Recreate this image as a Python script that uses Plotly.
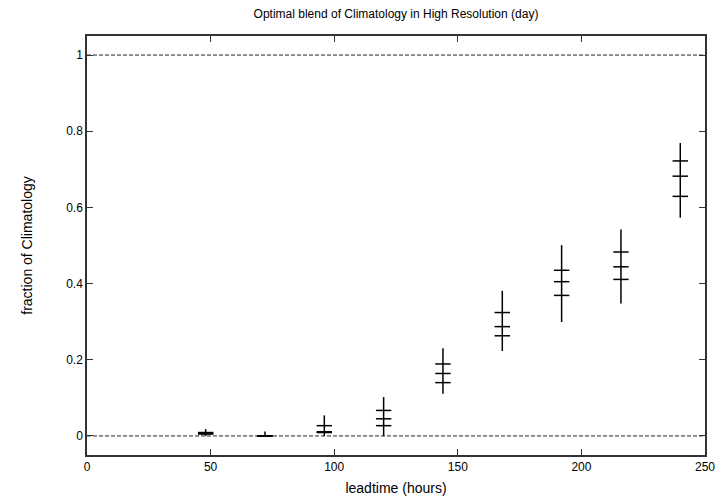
import plotly.graph_objects as go

# Data
leadtime = [48, 72, 96, 120, 144, 168, 192, 216, 240]
low      = [0.000, 0.000, 0.000, 0.000, 0.111, 0.223, 0.299, 0.348, 0.573]
high     = [0.018, 0.012, 0.054, 0.102, 0.230, 0.381, 0.501, 0.542, 0.769]
q_low    = [0.005, 0.000, 0.009, 0.027, 0.140, 0.263, 0.369, 0.411, 0.629]
q_mid    = [0.007, 0.000, 0.011, 0.045, 0.164, 0.287, 0.405, 0.444, 0.682]
q_high   = [0.009, 0.000, 0.027, 0.067, 0.189, 0.324, 0.435, 0.483, 0.722]

x_ticks = [0, 50, 100, 150, 200, 250]
y_ticks = [0, 0.2, 0.4, 0.6, 0.8, 1]
y_ticklabels = ["0", "0.2", "0.4", "0.6", "0.8", "1"]
ref_levels = [0, 1]

FONT = "Liberation Sans, Arial, sans-serif"

fig = go.Figure()

# reference dashed lines
for lvl in ref_levels:
    fig.add_trace(go.Scatter(x=[0, 250], y=[lvl, lvl], mode="lines",
                             line=dict(color="#222", width=1, dash="4px,2px"),
                             hoverinfo="skip", showlegend=False))

# vertical range lines
vx, vy = [], []
for x, lo, hi in zip(leadtime, low, high):
    vx += [x, x, None]
    vy += [lo, hi, None]
fig.add_trace(go.Scatter(x=vx, y=vy, mode="lines",
                         line=dict(color="black", width=1.5),
                         showlegend=False))

# horizontal tick marks
for series in (q_low, q_mid, q_high):
    fig.add_trace(go.Scatter(x=leadtime, y=series, mode="markers",
                             marker=dict(symbol="line-ew", size=11,
                                         line=dict(color="black", width=1.5)),
                             showlegend=False))

fig.update_layout(
    width=722, height=498,
    margin=dict(l=87, r=17, t=36, b=43),
    paper_bgcolor="white", plot_bgcolor="white",
    font=dict(family=FONT, size=12, color="black"),
    title=dict(text="Optimal blend of Climatology in High Resolution (day)",
               x=(87 + 705) / 2 / 722, xanchor="center", y=1 - 14 / 498, yanchor="middle",
               font=dict(size=12)),
    showlegend=False,
)
fig.update_xaxes(range=[0, 250], tickvals=x_ticks, ticks="inside", ticklen=6,
                 tickcolor="#333", showline=True, linecolor="#333", linewidth=1.5,
                 mirror="ticks", showgrid=False, zeroline=False, automargin=False,
                 title=dict(text="leadtime (hours)", standoff=10))
fig.update_yaxes(range=[-0.05, 1.05], tickvals=y_ticks, ticktext=y_ticklabels,
                 ticks="inside", ticklen=6, tickcolor="#333", showline=True,
                 linecolor="#333", linewidth=1.5, mirror="ticks", showgrid=False,
                 zeroline=False, automargin=False,
                 title=dict(text="fraction of Climatology", standoff=30))

fig.write_html("out.html", config={"displayModeBar": False},
               post_script="document.body.style.margin='0';document.body.style.overflow='hidden';")
